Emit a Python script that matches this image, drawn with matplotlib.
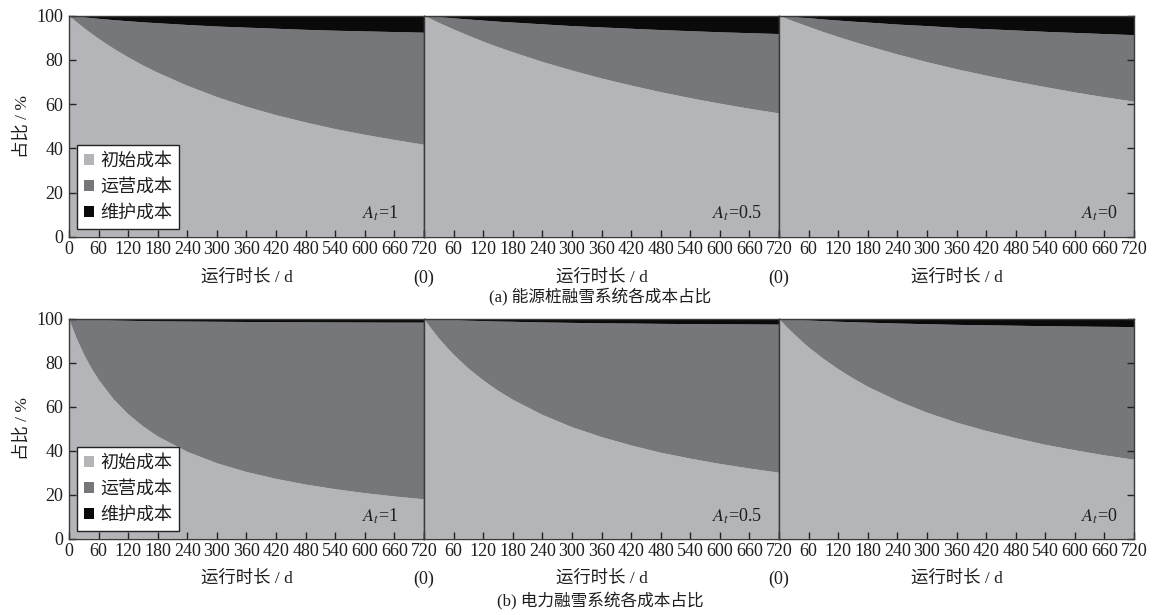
import numpy as np
import matplotlib
matplotlib.use("Agg")
import matplotlib.pyplot as plt
from matplotlib.patches import Patch

plt.rcParams['font.family'] = ['Liberation Serif', 'Noto Sans CJK SC']
plt.rcParams['mathtext.fontset'] = 'stix'

# ---------------- data ----------------
days = [0, 15, 30, 45, 60, 90, 120, 150, 180, 240, 300, 360, 420, 480, 540, 600, 660, 720]
xticks = [0, 60, 120, 180, 240, 300, 360, 420, 480, 540, 600, 660, 720]
yticks = [0, 20, 40, 60, 80, 100]
series_names = ['初始成本', '运营成本', '维护成本']
panel_labels = ['$A_t$=1', '$A_t$=0.5', '$A_t$=0']
row_captions = ['(a) 能源桩融雪系统各成本占比', '(b) 电力融雪系统各成本占比']

# (a) energy pile system: initial-cost share and maintenance share (%)
a_init_1 = [100, 97.2, 94.5, 92.0, 89.6, 85.2, 81.2, 77.5, 74.2, 68.3, 63.2, 58.8, 55.0, 51.7, 48.7, 46.1, 43.8, 41.6]
a_maint_1 = [0, 0.4, 0.7, 1.1, 1.4, 2.0, 2.5, 3.0, 3.4, 4.2, 4.9, 5.4, 5.9, 6.4, 6.8, 7.1, 7.4, 7.7]
a_init_05 = [100, 98.4, 96.8, 95.3, 93.8, 91.0, 88.3, 85.8, 83.5, 79.1, 75.2, 71.6, 68.4, 65.4, 62.7, 60.2, 57.9, 55.8]
a_maint_05 = [0, 0.3, 0.6, 0.9, 1.2, 1.7, 2.2, 2.7, 3.1, 3.9, 4.7, 5.3, 5.9, 6.5, 7.0, 7.5, 7.9, 8.3]
a_init_0 = [100, 98.7, 97.4, 96.2, 95.0, 92.6, 90.4, 88.3, 86.3, 82.5, 79.0, 75.8, 72.9, 70.2, 67.7, 65.3, 63.1, 61.1]
a_maint_0 = [0, 0.3, 0.6, 0.9, 1.1, 1.7, 2.2, 2.7, 3.1, 4.0, 4.7, 5.5, 6.1, 6.7, 7.3, 7.8, 8.3, 8.8]

# (b) electric snow-melting system
b_init_1 = [100, 91.3, 83.9, 77.7, 72.3, 63.5, 56.6, 51.1, 46.5, 39.5, 34.3, 30.3, 27.2, 24.6, 22.5, 20.7, 19.2, 17.9]
b_maint_1 = [0, 0.2, 0.35, 0.5, 0.6, 0.8, 0.95, 1.1, 1.2, 1.3, 1.4, 1.5, 1.6, 1.65, 1.7, 1.75, 1.8, 1.8]
b_init_05 = [100, 95.4, 91.1, 87.3, 83.7, 77.4, 72.0, 67.3, 63.2, 56.3, 50.7, 46.2, 42.4, 39.1, 36.4, 34.0, 31.9, 30.0]
b_maint_05 = [0, 0.2, 0.3, 0.5, 0.6, 0.9, 1.1, 1.3, 1.4, 1.7, 1.9, 2.1, 2.2, 2.35, 2.45, 2.55, 2.6, 2.7]
b_init_0 = [100, 96.4, 93.1, 90.0, 87.0, 81.8, 77.1, 72.9, 69.1, 62.7, 57.3, 52.8, 49.0, 45.7, 42.7, 40.2, 37.9, 35.9]
b_maint_0 = [0, 0.2, 0.4, 0.6, 0.8, 1.1, 1.4, 1.6, 1.8, 2.2, 2.5, 2.8, 3.0, 3.2, 3.4, 3.55, 3.7, 3.8]

rows = [
    [(a_init_1, a_maint_1), (a_init_05, a_maint_05), (a_init_0, a_maint_0)],
    [(b_init_1, b_maint_1), (b_init_05, b_maint_05), (b_init_0, b_maint_0)],
]

colors = ['#b4b5b9', '#76777b', '#0a0a0a']
spine_col = '#3a3a3a'
txt_col = '#1e1e1e'

fig = plt.figure(figsize=(11.52, 6.15), dpi=100)

W, H = 1152, 615
left_px, right_px = 69, 1134
pw = (right_px - left_px) / 3
row_px = [(15.7, 236.7), (318.7, 538.7)]
xlabel_y = [278, 579]
caption_y = [297, 601]
ylabel_cy = [127, 429]
label_x = [0.928, 0.952, 0.955]

for r, (top, bot) in enumerate(row_px):
    for c in range(3):
        ax = fig.add_axes([(left_px + c * pw) / W, 1 - bot / H, pw / W, (bot - top) / H])
        init, maint = rows[r][c]
        init = np.array(init, dtype=float)
        maint = np.array(maint, dtype=float)
        oper = 100 - init - maint
        ax.stackplot(days, init, oper, maint, colors=colors, linewidth=0)
        ax.set_xlim(0, 720)
        ax.set_ylim(0, 100)
        ax.set_xticks(xticks)
        labs = [str(t) for t in xticks]
        if c > 0:
            labs[0] = ''
        ax.set_xticklabels(labs)
        ax.tick_params(axis='x', direction='in', length=5, width=1, color='#222222',
                       labelsize=13, pad=3, labelcolor=txt_col)
        ax.set_yticks(yticks)
        if c == 0:
            ax.tick_params(axis='y', direction='in', length=5, width=1, color='#222222',
                           labelsize=13, pad=4, labelcolor=txt_col)
        elif c == 2:
            ax.tick_params(axis='y', direction='in', length=5, width=1, color='#222222',
                           left=False, labelleft=False, right=True)
        else:
            ax.tick_params(axis='y', left=False, labelleft=False)
        for s in ax.spines.values():
            s.set_color(spine_col)
            s.set_linewidth(1.0)
        ax.text(label_x[c], 0.06, panel_labels[c], transform=ax.transAxes, ha='right',
                va='bottom', fontsize=13, color=txt_col)
        if c == 0:
            handles = [Patch(facecolor=col, edgecolor='none') for col in colors]
            leg = ax.legend(handles, series_names, loc='lower left',
                            bbox_to_anchor=(0.022, 0.036), borderaxespad=0,
                            fancybox=False, framealpha=1, edgecolor='#222222',
                            handlelength=0.55, handleheight=0.55, handletextpad=0.35,
                            labelspacing=0.45, borderpad=0.38,
                            prop={'family': ['Noto Sans CJK SC'], 'size': 13})
            leg.get_frame().set_linewidth(1.0)
            for t in leg.get_texts():
                t.set_color(txt_col)
        fig.text((left_px + (c + 0.5) * pw) / W, 1 - xlabel_y[r] / H, '运行时长 / d',
                 ha='center', va='center', fontsize=12.5, color=txt_col)
        if c > 0:
            fig.text((left_px + c * pw) / W, 1 - xlabel_y[r] / H, '(0)',
                     ha='center', va='center', fontsize=13, color=txt_col)
    fig.text(22 / W, 1 - ylabel_cy[r] / H, '占比 / %', rotation=90, ha='center',
             va='center', fontsize=12.5, color=txt_col)
    fig.text(600 / W, 1 - caption_y[r] / H, row_captions[r], ha='center', va='center',
             fontsize=12, color=txt_col)

fig.savefig('out.png', dpi=100)
